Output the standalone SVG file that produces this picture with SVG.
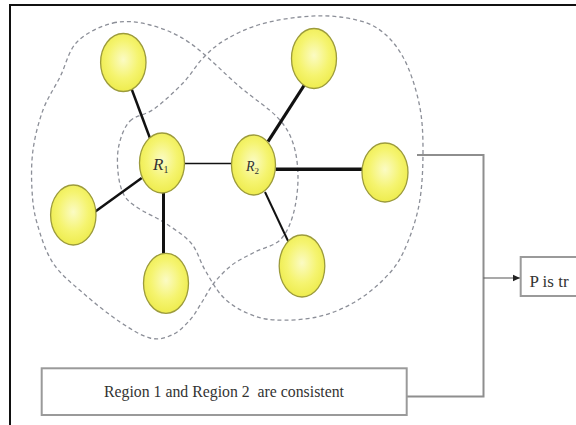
<svg xmlns="http://www.w3.org/2000/svg" width="576" height="425" viewBox="0 0 576 425">
  <defs>
    <radialGradient id="yel" cx="50%" cy="45%" r="55%">
      <stop offset="0" stop-color="#fbfbc4"/>
      <stop offset="0.6" stop-color="#f5f470"/>
      <stop offset="1" stop-color="#eeec4e"/>
    </radialGradient>
    <marker id="arr" markerWidth="8" markerHeight="8" refX="7" refY="4" orient="auto" markerUnits="userSpaceOnUse">
      <path d="M0,0.8 L7,4 L0,7.2 Z" fill="#222"/>
    </marker>
  </defs>
  <style>
    .node ellipse { fill: url(#yel); stroke: #9c9b3c; stroke-width: 1.3; }
    .region { fill: none; stroke: #8c8f98; stroke-width: 1.3; stroke-dasharray: 4 3; }
    .edge { stroke: #111; fill: none; stroke-linecap: butt; }
    .conn { stroke: #8e8e8e; stroke-width: 2; fill: none; }
    .box rect { fill: #fff; stroke: #9a9a9a; stroke-width: 2; }
    .lbl { font-family: "Liberation Serif", "Times New Roman", serif; fill: #333; }
    .rl { font-family: "Liberation Serif", "Times New Roman", serif; font-style: italic; fill: #333; }
  </style>
  <rect width="576" height="425" fill="#fff"/>
  <path d="M10,425 V5 H576" fill="none" stroke="#111" stroke-width="2"/>

  <g id="regions">
    <path id="region1" class="region" d="M 113,23 C 125.2,20.2 137.2,21.7 150,25 C 162.8,28.3 175,32.7 190,43 C 205,53.3 225.5,74.7 240,87 C 254.5,99.3 268.2,107.7 277,117 C 285.8,126.3 289.5,132.8 293,143 C 296.5,153.2 298,166 298,178 C 298,190 296,204.7 293,215 C 290,225.3 286.3,233.8 280,240 C 273.7,246.2 263,247.8 255,252 C 247,256.2 238.8,259.8 232,265 C 225.2,270.2 219,276.8 214,283 C 209,289.2 206,295.8 202,302 C 198,308.2 195,314.5 190,320 C 185,325.5 178.7,332 172,335 C 165.3,338 158.7,340.2 150,338 C 141.3,335.8 131.2,329.5 120,322 C 108.8,314.5 94.2,302.8 83,293 C 71.8,283.2 60.7,274.7 53,263 C 45.3,251.3 40.5,235.2 37,223 C 33.5,210.8 32.7,202.2 32,190 C 31.3,177.8 31.2,163.3 33,150 C 34.8,136.7 38.5,122.2 43,110 C 47.5,97.8 54.3,88.3 60,77 C 65.7,65.7 68.2,51 77,42 C 85.8,33 100.8,25.8 113,23 Z"/>
    <path id="region2" class="region" d="M 130,121 C 135.8,115 145.2,115.3 154,109 C 162.8,102.7 174.8,91.5 183,83 C 191.2,74.5 196,65.2 203,58 C 210,50.8 215.8,45.5 225,40 C 234.2,34.5 245.5,28.8 258,25 C 270.5,21.2 286.3,18.3 300,17 C 313.7,15.7 327.2,15.2 340,17 C 352.8,18.8 366.5,21.3 377,28 C 387.5,34.7 396,44.5 403,57 C 410,69.5 415.7,87.5 419,103 C 422.3,118.5 423,133 423,150 C 423,167 422.3,187.8 419,205 C 415.7,222.2 409,240.5 403,253 C 397,265.5 391.3,271.7 383,280 C 374.7,288.3 364,296.8 353,303 C 342,309.2 330,314.2 317,317 C 304,319.8 286.7,320.7 275,320 C 263.3,319.3 255.7,316.8 247,313 C 238.3,309.2 230,304.2 223,297 C 216,289.8 210.3,279 205,270 C 199.7,261 197.7,250.8 191,243 C 184.3,235.2 173.8,228.8 165,223 C 156.2,217.2 144.8,212.7 138,208 C 131.2,203.3 127.3,201 124,195 C 120.7,189 118.8,180.3 118,172 C 117.2,163.7 117,153.5 119,145 C 121,136.5 124.2,127 130,121 Z"/>
  </g>

  <g id="connectors">
    <line class="edge" x1="131.7" y1="89.3" x2="150" y2="138.3" stroke-width="2.5"/>
    <line class="edge" x1="141.7" y1="178" x2="95" y2="211.7" stroke-width="2.5"/>
    <line class="edge" x1="163.5" y1="193" x2="163.5" y2="254" stroke-width="3"/>
    <line class="edge" x1="184.5" y1="163.5" x2="231.5" y2="163.5" stroke-width="1.5" stroke="#444"/>
    <line class="edge" x1="268" y1="141.7" x2="305" y2="84" stroke-width="3.2"/>
    <line class="edge" x1="275.5" y1="169.3" x2="362" y2="169.3" stroke-width="3.5"/>
    <line class="edge" x1="265" y1="192" x2="288.5" y2="242" stroke-width="2"/>
    <path class="conn" d="M417,155 H483.5 V396.5 H407"/>
    <line x1="483.5" y1="278" x2="520" y2="278" stroke="#555" stroke-width="1.2" marker-end="url(#arr)"/>
  </g>

  <g id="n_tl" class="node"><ellipse cx="123.3" cy="62.5" rx="22.7" ry="29"/></g>
  <g id="n_r1" class="node"><ellipse cx="162" cy="163" rx="22.5" ry="30"/>
    <text class="rl" x="153" y="169.5" font-size="17">R<tspan font-size="10" font-style="normal" dy="3">1</tspan></text>
  </g>
  <g id="n_r2" class="node"><ellipse cx="253.5" cy="165" rx="22" ry="30"/>
    <text class="rl" x="246" y="171" font-size="14" fill="#555">R<tspan font-size="9" font-style="normal" dy="3">2</tspan></text>
  </g>
  <g id="n_tr" class="node"><ellipse cx="314" cy="58.5" rx="22.5" ry="30"/></g>
  <g id="n_right" class="node"><ellipse cx="385" cy="172.5" rx="23" ry="29.5"/></g>
  <g id="n_left" class="node"><ellipse cx="73.3" cy="215" rx="22.7" ry="30"/></g>
  <g id="n_bottom" class="node"><ellipse cx="166" cy="283.3" rx="22.5" ry="30"/></g>
  <g id="n_br" class="node"><ellipse cx="302" cy="266" rx="22.8" ry="31"/></g>

  <g id="box_region" class="box">
    <rect x="41.7" y="368.3" width="365" height="46.7"/>
    <text class="lbl" x="224" y="397" font-size="16.5" text-anchor="middle" textLength="240" lengthAdjust="spacingAndGlyphs" xml:space="preserve">Region 1 and Region 2  are consistent</text>
  </g>
  <g id="box_p" class="box">
    <rect x="520.7" y="257" width="70" height="39"/>
    <text class="lbl" x="529.5" y="286.5" font-size="17">P is tr</text>
  </g>
</svg>
